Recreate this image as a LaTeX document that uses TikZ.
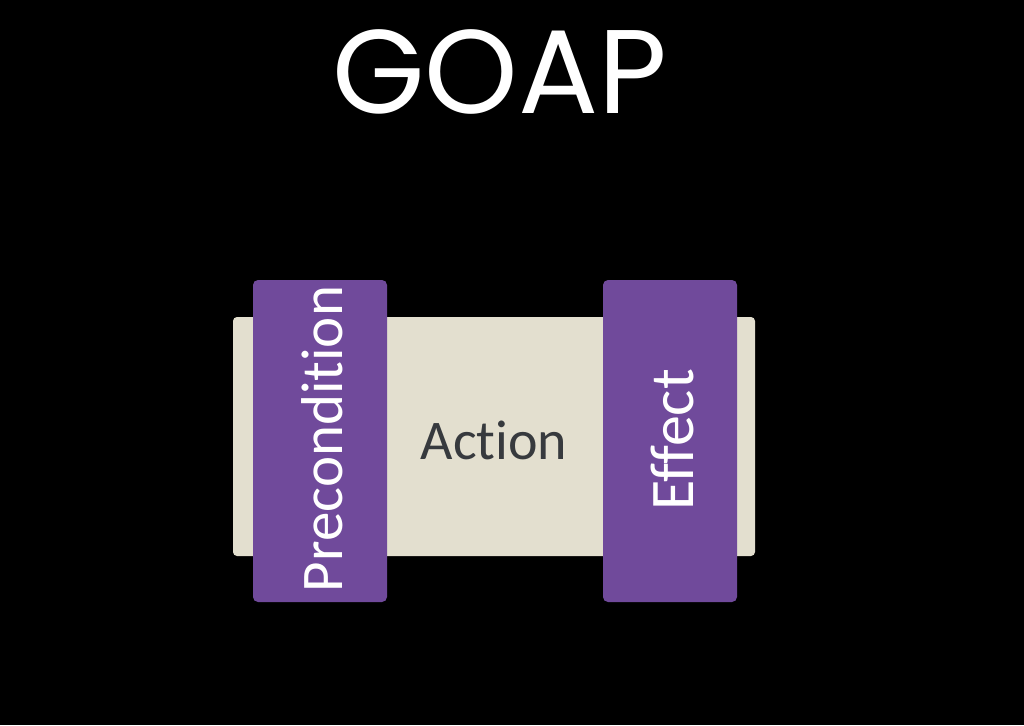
\documentclass[tikz,border=0pt]{standalone}
\usepackage{fontspec}
\setmainfont{Carlito}[Ligatures={NoCommon,TeX}]
\newfontfamily\titlefont{Poppins}
\definecolor{beige}{RGB}{227,223,207}
\definecolor{violet}{RGB}{112,74,155}
\definecolor{ink}{RGB}{55,58,62}
\begin{document}
\begin{tikzpicture}[
  x=1pt, y=-1pt,
  card/.style={fill=beige, rounded corners=4pt, minimum width=522pt, minimum height=239pt, inner sep=0pt},
  band/.style={fill=violet, rounded corners=5pt, minimum width=134pt, minimum height=322pt, inner sep=0pt},
  label/.style={text=white, font=\fontsize{59}{64}\selectfont, rotate=90}
]
\fill[black] (0,0) rectangle (1024,725);
\useasboundingbox (0,0) rectangle (1024,725);
\node[text=white, font=\titlefont\fontsize{119}{126}\selectfont] (title) at (500,72) {GOAP};
\node[card] (action) at (494,436.5) {};
\node[text=ink, font=\fontsize{56}{60}\selectfont] (actiontext) at (494,440) {Action};
\node[band] (pre) at (320,441) {};
\node[band] (eff) at (670,441) {};
\node[label] (pretext) at (322,439) {Precondition};
\node[label, font=\fontsize{62}{66}\selectfont] (efftext) at (672,440) {Effect};
\end{tikzpicture}
\end{document}
